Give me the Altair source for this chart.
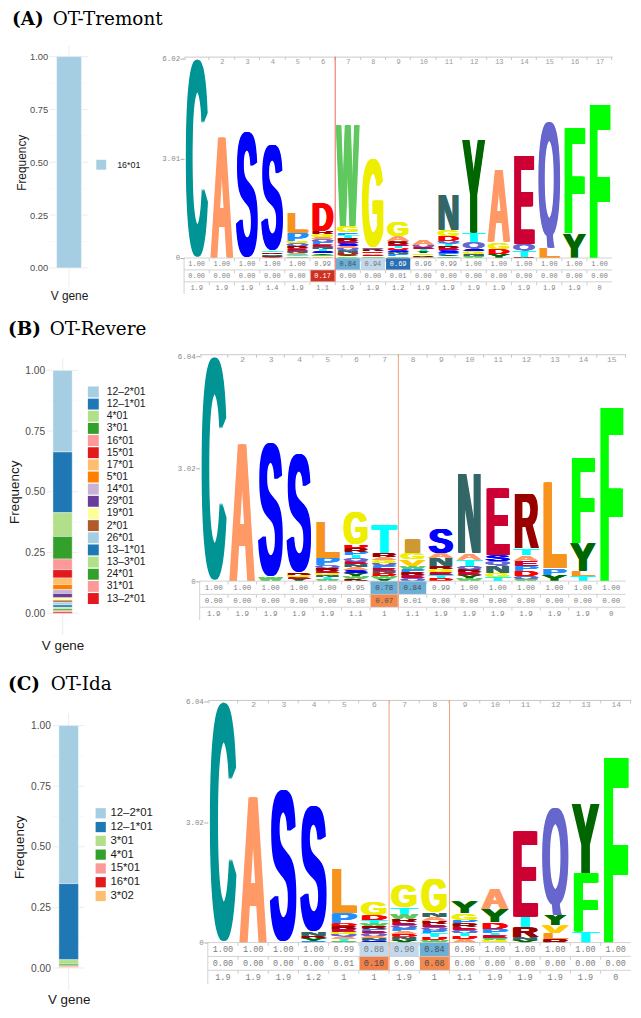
import urllib.parse
import altair as alt
import pandas as pd

# ---------------------------------------------------------------- data
TITLE_TAGS = ["(A)", "(B)", "(C)"]
TITLE_NAMES = ["OT-Tremont", "OT-Revere", "OT-Ida"]

GENES_A = ["16*01"]
FREQ_A = [1.0]
GENES_B = ["12–2*01", "12–1*01", "4*01", "3*01", "16*01", "15*01", "17*01", "5*01",
           "14*01", "29*01", "19*01", "2*01", "26*01", "13–1*01", "13–3*01", "24*01",
           "31*01", "13–2*01"]
FREQ_B = [0.336, 0.250, 0.098, 0.093, 0.044, 0.034, 0.027, 0.021, 0.016, 0.018,
          0.010, 0.008, 0.011, 0.010, 0.007, 0.007, 0.005, 0.005]
GENES_C = ["12–2*01", "12–1*01", "3*01", "4*01", "15*01", "16*01", "3*02"]
FREQ_C = [0.652, 0.314, 0.018, 0.007, 0.005, 0.002, 0.002]

# sequence logos: letters of each position from top to bottom, with heights (bits)
LOGO_A_LETTERS = ["C", "A", "S", "STRNEY", "LPGQRENATW", "DRGAQPENTSYWV",
                  "WGPTRESAQNDYF", "GQRDAEW", "GARETDSNPW", "AQETYGRW",
                  "NGDQTRESPYW", "YTQSGNW", "AGDY", "EQTR", "QL", "FY", "F"]
LOGO_A_HEIGHTS = [
    [6.02], [3.64], [3.84],
    [3.20, .05, .05, .05, .04, .03],
    [.63, .25, .08, .08, .07, .07, .06, .06, .05, .05],
    [.83, .10, .08, .08, .08, .07, .07, .07, .06, .06, .05, .05, .05],
    [3.04, .20, .09, .08, .08, .08, .07, .07, .07, .07, .06, .05, .05],
    [2.70, .06, .06, .05, .05, .05, .05],
    [.45, .15, .07, .07, .07, .06, .06, .06, .06, .05],
    [.14, .07, .07, .06, .06, .05, .05, .04],
    [1.05, .18, .15, .08, .07, .07, .07, .07, .06, .05, .05],
    [2.80, .30, .20, .07, .07, .07, .06],
    [2.20, .20, .15, .12],
    [2.65, .20, .20, .03],
    [3.78, .32],
    [3.18, .74],
    [4.64],
]
LOGO_B_LETTERS = ["C", "A", "SW", "SRGEY", "LPQREGNTW", "GDRPTQENASYWK",
                  "TRAGQPENDWY", "IGVWPREQ", "SANRGETD", "NATQREYW", "ESQNGT",
                  "RTAEPDQW", "LPY", "FYLT", "F"]
LOGO_B_HEIGHTS = [
    [6.04], [3.67], [3.61, .12],
    [3.21, .06, .06, .05, .05],
    [.98, .20, .07, .07, .06, .06, .06, .05, .05],
    [.89, .10, .09, .09, .09, .08, .08, .08, .08, .08, .07, .07, .07],
    [.75, .11, .08, .07, .07, .07, .07, .07, .07, .07, .07],
    [.36, .18, .18, .08, .08, .08, .08, .08],
    [.67, .13, .22, .08, .08, .08, .08, .08],
    [2.13, .18, .18, .08, .08, .08, .08, .08],
    [1.80, .16, .12, .20, .10, .11],
    [1.47, .18, .15, .15, .12, .14, .08, .06],
    [2.31, .18, .17],
    [2.31, .74, .15, .13],
    [4.66],
]
LOGO_C_LETTERS = ["C", "A", "S", "SNRYP", "LPDREGQATW", "GDTWRPEQANS",
                  "GTWREQPADNY", "GNAREQPTDW", "YGPREQTDA", "AYDPTEWG", "ETRNY",
                  "QYVLR", "YFT", "F"]
LOGO_C_HEIGHTS = [
    [6.04], [3.65], [3.84],
    [3.18, .10, .06, .06, .05],
    [1.12, .25, .07, .07, .07, .06, .06, .05, .05, .05],
    [.33, .12, .07, .07, .07, .06, .06, .06, .06, .06, .05],
    [.58, .17, .12, .08, .08, .08, .07, .07, .07, .08, .07],
    [.85, .12, .08, .08, .08, .08, .08, .08, .08, .07],
    [.29, .18, .08, .08, .08, .08, .08, .08, .08],
    [.50, .33, .17, .10, .06, .06, .06, .06],
    [2.14, .27, .25, .07, .06],
    [2.69, .27, .20, .15, .08],
    [1.74, 1.47, .27],
    [4.63],
]

# tables under the logos (three rows each)
TABLE_A_R1 = [1.00, 1.00, 1.00, 1.00, 1.00, 0.99, 0.84, 0.94, 0.69, 0.96, 0.99, 1.00, 1.00, 1.00, 1.00, 1.00, 1.00]
TABLE_A_R2 = [0.00, 0.00, 0.00, 0.00, 0.00, 0.17, 0.00, 0.00, 0.01, 0.00, 0.00, 0.00, 0.00, 0.00, 0.00, 0.00, 0.00]
TABLE_A_R3 = [1.9, 1.9, 1.9, 1.4, 1.9, 1.1, 1.9, 1.9, 1.2, 1.9, 1.9, 1.9, 1.9, 1.9, 1.9, 1.9, 0]
TABLE_B_R1 = [1.00, 1.00, 1.00, 1.00, 1.00, 0.95, 0.78, 0.84, 0.99, 1.00, 1.00, 1.00, 1.00, 1.00, 1.00]
TABLE_B_R2 = [0.00, 0.00, 0.00, 0.00, 0.00, 0.00, 0.07, 0.01, 0.00, 0.00, 0.00, 0.00, 0.00, 0.00, 0.00]
TABLE_B_R3 = [1.9, 1.9, 1.9, 1.9, 1.9, 1.1, 1, 1.1, 1.9, 1.9, 1.9, 1.9, 1.9, 1.9, 0]
TABLE_C_R1 = [1.00, 1.00, 1.00, 1.00, 0.99, 0.88, 0.90, 0.84, 0.96, 1.00, 1.00, 1.00, 1.00, 1.00]
TABLE_C_R2 = [0.00, 0.00, 0.00, 0.00, 0.01, 0.10, 0.00, 0.08, 0.00, 0.00, 0.00, 0.00, 0.00, 0.00]
TABLE_C_R3 = [1.9, 1.9, 1.9, 1.2, 1, 1, 1.9, 1, 1.1, 1.9, 1.9, 1.9, 1.9, 0]

# positions in front of which a separator line is drawn
SEPS_A = [7]
SEPS_B = [8]
SEPS_C = [7, 9]

# ---------------------------------------------------------------- styles / layout
PAIRED = ["#A6CEE3", "#1F78B4", "#B2DF8A", "#33A02C", "#FB9A99", "#E31A1C",
          "#FDBF6F", "#FF7F00", "#CAB2D6", "#6A3D9A", "#FFFF99", "#B15928"]

LETTER_COLORS = {
    "C": "#009494", "A": "#FF9966", "S": "#0000FF", "L": "#F7941E", "D": "#FF0000",
    "W": "#5FC85F", "G": "#EEEE00", "N": "#336666", "Y": "#006600", "E": "#CC0033",
    "Q": "#6666CC", "F": "#00FF00", "T": "#00FFFF", "R": "#990000", "P": "#1E90FF",
    "V": "#FFCC00", "K": "#7A0000", "I": "#CC9933", "M": "#9933CC", "H": "#6666FF",
}
CAP_HEIGHT = 0.688          # Liberation Sans Bold, em units
OVERSHOOT = {"C": 0.015, "G": 0.015, "O": 0.015, "Q": 0.015, "S": 0.015, "U": 0.015}
DESCENT = {"Q": 0.075}
SMEAR = [0.0, 2.5, 5.0, 7.5, 10.0]   # horizontal copies that thicken the glyph strokes

W_VIEW, H_VIEW, MARGIN = 630, 1002, 8


def vx(p):
    return p - MARGIN


def vy(p):
    return p - MARGIN


BAR_L = {
    "A": dict(bx0=57.0, bx1=82.0, y1=53.0, y0=266.0, axis_x=48.0, panel=(50.0, 89.0),
              tick_font=9.4, title_font=12.0, freq_pad=1.5, vgene_pad=23.0,
              leg_x=97.0, leg_c=162.0, sym=10.0, leg_off=11.0, leg_font=9.0, leg_step=12.0),
    "B": dict(bx0=53.3, bx1=72.7, y1=369.3, y0=614.0, axis_x=45.0, panel=(47.0, 79.0),
              tick_font=10.3, title_font=13.5, freq_pad=3.0, vgene_pad=26.0,
              leg_x=88.5, leg_c=391.0, sym=11.0, leg_off=8.0, leg_font=10.5, leg_step=12.25),
    "C": dict(bx0=59.3, bx1=79.0, y1=727.3, y0=971.7, axis_x=50.7, panel=(53.0, 85.4),
              tick_font=10.3, title_font=13.5, freq_pad=3.7, vgene_pad=25.0,
              leg_x=95.7, leg_c=815.7, sym=10.3, leg_off=4.0, leg_font=11.5, leg_step=12.4),
}

LOGO_L = {
    "A": dict(x0=185.5, x1=617.0, y0=256.0, ytop=55.0, ymax=6.02, frame=53.0,
              rows=[256.0, 268.0, 280.0, 292.0], font=7.0, top_font=7.0, sep_color="#F0645A"),
    "B": dict(x0=201.2, x1=630.4, y0=581.7, ytop=355.0, ymax=6.04, frame=353.0,
              rows=[581.7, 595.0, 608.0, 621.0], font=7.6, top_font=8.0, sep_color="#F4A07A"),
    "C": dict(x0=209.4, x1=635.8, y0=946.0, ytop=703.3, ymax=6.04, frame=701.5,
              rows=[946.0, 960.0, 974.0, 988.0], font=8.6, top_font=8.0, sep_color="#F4A07A"),
}

TITLE_POS = [((12, 21), (53, 21)), ((8, 334), (50, 334)), ((8, 691), (51, 691))]
TITLE_FONT = 18.5


def letter_url(ch):
    over = OVERSHOOT.get(ch, 0.0)
    desc = max(DESCENT.get(ch, 0.0), over)
    fs = 100.0 / (CAP_HEIGHT + over + desc)
    base = 100.0 - desc * fs
    width = 100.0 - SMEAR[-1]
    parts = []
    for dx in SMEAR:
        parts.append(
            f'<text x="{dx:.2f}" y="{base:.2f}" textLength="{width:.2f}" '
            f'lengthAdjust="spacingAndGlyphs">{ch}</text>'
        )
    svg = (
        '<svg xmlns="http://www.w3.org/2000/svg" width="100" height="100" '
        'viewBox="0 0 100 100" preserveAspectRatio="none">'
        f'<g font-family="Liberation Sans, Arial, sans-serif" font-weight="bold" '
        f'font-size="{fs:.2f}" fill="{LETTER_COLORS[ch]}">' + "".join(parts) + "</g></svg>"
    )
    return "data:image/svg+xml;charset=utf-8," + urllib.parse.quote(svg)


def cell_style(row, v):
    if row == "r1":
        if v < 0.75:
            return "#2A6EB4", "#FFFFFF"
        if v < 0.87:
            return "#6BAED6", "#4D4D4D"
        if v < 0.95:
            return "#C2D9EC", "#777777"
    if row == "r2":
        if v >= 0.15:
            return "#D0301F", "#FFFFFF"
        if v >= 0.09:
            return "#F0804A", "#4D4D4D"
        if v >= 0.05:
            return "#F4894E", "#4D4D4D"
    return None, "#808080"


def bar_group(genes, freqs, L):
    df = pd.DataFrame({"gene": genes, "freq": freqs, "idx": list(range(len(genes)))})
    df["cat"] = "V gene"
    colors = [PAIRED[i % len(PAIRED)] for i in range(len(genes))]
    yscale = alt.Scale(domain=[0, 1], range=[vy(L["y0"]), vy(L["y1"])], nice=False, zero=False)
    xscale = alt.Scale(domain=["V gene"], range=[vx(L["bx0"]), vx(L["bx1"])],
                       paddingInner=0, paddingOuter=0)
    yaxis = alt.Axis(orient="left", offset=-vx(L["axis_x"]), values=[0, 0.25, 0.5, 0.75, 1],
                     format=".2f", grid=False, ticks=False, tickSize=0, domain=False,
                     labelPadding=0, labelFont="Liberation Sans", labelFontSize=L["tick_font"],
                     labelColor="#4D4D4D", title="Frequency", titleFont="Liberation Sans",
                     titleFontSize=L["title_font"], titleFontWeight="normal",
                     titleColor="#1A1A1A", titlePadding=L["freq_pad"])
    xaxis = alt.Axis(orient="bottom", offset=vy(L["y0"]) - H_VIEW, labels=False, ticks=False,
                     tickSize=0, domain=False, grid=False, title="V gene",
                     titleFont="Liberation Sans", titleFontSize=L["title_font"],
                     titleFontWeight="normal", titleColor="#1A1A1A",
                     titlePadding=L["vgene_pad"])
    span = L["y0"] - L["y1"]
    px0, px1 = L["panel"]
    gmaj = alt.Chart(pd.DataFrame({"v": [0, 0.25, 0.5, 0.75, 1.0]})).mark_rule(
        color="#EBEBEB", strokeWidth=0.9).encode(
        x=alt.value(vx(px0)), x2=alt.value(vx(px1)),
        y=alt.Y("v:Q", scale=yscale, axis=yaxis))
    gmin = alt.Chart(pd.DataFrame({"v": [0.125, 0.375, 0.625, 0.875]})).mark_rule(
        color="#F2F2F2", strokeWidth=0.5).encode(
        x=alt.value(vx(px0)), x2=alt.value(vx(px1)),
        y=alt.Y("v:Q", scale=yscale, axis=yaxis))
    gvert = alt.Chart(pd.DataFrame({"cat": ["V gene"]})).mark_rule(
        color="#EBEBEB", strokeWidth=0.9).encode(
        x=alt.X("cat:N", scale=xscale, axis=xaxis),
        y=alt.value(vy(L["y1"] - 0.05 * span)), y2=alt.value(vy(L["y0"] + 0.09 * span)))
    eh = max(L["sym"], L["leg_font"])
    legend = alt.Legend(orient="none", legendX=vx(L["leg_x"]), legendY=vy(L["leg_c"] - eh / 2),
                        direction="vertical", title=None, symbolType="square",
                        symbolSize=L["sym"] ** 2, symbolStrokeWidth=0,
                        labelFont="Liberation Sans", labelFontSize=L["leg_font"],
                        labelColor="#1A1A1A", labelOffset=L["leg_off"],
                        rowPadding=L["leg_step"] - eh, padding=0, labelLimit=200)
    bars = alt.Chart(df).mark_bar(stroke="white", strokeWidth=0.4).encode(
        x=alt.X("cat:N", scale=xscale, axis=xaxis),
        y=alt.Y("freq:Q", stack="zero", scale=yscale, axis=yaxis),
        color=alt.Color("gene:N", scale=alt.Scale(domain=genes, range=colors), legend=legend),
        order=alt.Order("idx:Q", sort="descending"),
    )
    return alt.layer(gmin, gmaj, gvert, bars)


def table_group(r1, r2, r3, L):
    n = len(r1)
    recs = []
    for i in range(n):
        for row, v, txt in (("r1", r1[i], f"{r1[i]:.2f}"),
                            ("r2", r2[i], f"{r2[i]:.2f}"),
                            ("r3", r3[i], f"{r3[i]:g}")):
            fill, tc = cell_style(row, v) if row != "r3" else (None, "#808080")
            recs.append({"pos": i + 1, "row": row, "txt": txt, "fill": fill, "tc": tc})
    df = pd.DataFrame(recs)
    hi = df[df["fill"].notna()]
    xscale = alt.Scale(domain=list(range(1, n + 1)), range=[vx(L["x0"]), vx(L["x1"])],
                       paddingInner=0.04, paddingOuter=0.02)
    yscale = alt.Scale(domain=["r1", "r2", "r3"], range=[vy(L["rows"][0]), vy(L["rows"][3])],
                       paddingInner=0, paddingOuter=0)
    top_axis = alt.Axis(orient="bottom", offset=vy(L["frame"]) - H_VIEW, tickBand="extent",
                        tickSize=3, tickColor="#BBBBBB", tickWidth=0.8, domainColor="#BBBBBB",
                        domainWidth=0.8, labelFont="Liberation Mono",
                        labelFontSize=L["top_font"], labelColor="#999999", labelPadding=-2,
                        labelAngle=0, title=None, grid=False, zindex=0)
    rects = alt.Chart(hi).mark_rect().encode(
        x=alt.X("pos:O", scale=xscale, axis=top_axis),
        y=alt.Y("row:O", scale=yscale, axis=None),
        color=alt.Color("fill:N", scale=None))
    texts = alt.Chart(df).mark_text(font="Liberation Mono", fontSize=L["font"],
                                    baseline="middle").encode(
        x=alt.X("pos:O", scale=xscale, axis=top_axis),
        y=alt.Y("row:O", scale=yscale, axis=None),
        text="txt:N",
        color=alt.Color("tc:N", scale=None))
    return alt.layer(rects, texts)


def logo_group(letters, heights, seps, L):
    n = len(letters)
    recs = []
    for i, (s, hs) in enumerate(zip(letters, heights), start=1):
        assert len(s) == len(hs), (i, s, hs)
        base = 0.0
        for ch, h in reversed(list(zip(s, hs))):
            recs.append({"xl": i - 0.48, "xr": i + 0.48, "y0": base, "y1": base + h,
                         "url": letter_url(ch)})
            base += h
    df = pd.DataFrame(recs)
    ymax = L["ymax"]
    xscale = alt.Scale(domain=[0.5, n + 0.5], range=[vx(L["x0"]), vx(L["x1"])],
                       nice=False, zero=False)
    yscale = alt.Scale(domain=[0, ymax], range=[vy(L["y0"]), vy(L["ytop"])],
                       nice=False, zero=False)
    yaxis = alt.Axis(orient="left", offset=-vx(L["x0"]),
                     values=[0, round(ymax / 2, 2), ymax], format=".3~g", grid=False,
                     domain=False, tickSize=4, tickColor="#999999", tickWidth=0.8,
                     labelPadding=0.5, labelFont="Liberation Mono", labelFontSize=7.5,
                     labelColor="#888888", title=None, zindex=0)
    layers = [alt.Chart(df).mark_image(aspect=False).encode(
        x=alt.X("xl:Q", scale=xscale, axis=None), x2="xr:Q",
        y=alt.Y("y1:Q", scale=yscale, axis=yaxis), y2="y0:Q",
        url="url:N")]
    rows = L["rows"]
    dummy = pd.DataFrame({"k": [0]})
    bdf = pd.DataFrame({"b": [k + 0.5 for k in range(1, n)]})
    for r in rows[:3]:
        layers.append(alt.Chart(dummy).mark_rule(color="#C8C8C8", strokeWidth=0.8).encode(
            x=alt.value(vx(L["x0"])), x2=alt.value(vx(L["x1"])), y=alt.value(vy(r))))
        layers.append(alt.Chart(bdf).mark_rule(color="#C0C0C0", strokeWidth=0.8).encode(
            x=alt.X("b:Q", scale=xscale, axis=None),
            y=alt.value(vy(r) + 0.4), y2=alt.value(vy(r) + 3.4)))
    layers.append(alt.Chart(dummy).mark_rule(color="#C8C8C8", strokeWidth=0.8).encode(
        x=alt.value(vx(L["x0"])), y=alt.value(vy(rows[0])), y2=alt.value(vy(rows[3]))))
    sdf = pd.DataFrame({"b": [s - 0.5 for s in seps]})
    layers.append(alt.Chart(sdf).mark_rule(color=L["sep_color"], strokeWidth=1.0).encode(
        x=alt.X("b:Q", scale=xscale, axis=None),
        y=alt.value(vy(L["frame"])), y2=alt.value(vy(rows[2]))))
    return alt.layer(*layers)


def title_marks(i):
    (tx, ty), (nx, ny) = TITLE_POS[i]
    tag = alt.Chart(pd.DataFrame({"t": [TITLE_TAGS[i]]})).mark_text(
        font="DejaVu Serif", fontSize=TITLE_FONT, fontWeight="bold", align="left",
        baseline="alphabetic", color="#000000").encode(
        x=alt.value(vx(tx)), y=alt.value(vy(ty)), text="t:N")
    name = alt.Chart(pd.DataFrame({"t": [TITLE_NAMES[i]]})).mark_text(
        font="DejaVu Serif", fontSize=TITLE_FONT, fontWeight="normal", align="left",
        baseline="alphabetic", color="#000000").encode(
        x=alt.value(vx(nx)), y=alt.value(vy(ny)), text="t:N")
    return [tag, name]


panels = [
    ("A", GENES_A, FREQ_A, LOGO_A_LETTERS, LOGO_A_HEIGHTS, TABLE_A_R1, TABLE_A_R2, TABLE_A_R3, SEPS_A),
    ("B", GENES_B, FREQ_B, LOGO_B_LETTERS, LOGO_B_HEIGHTS, TABLE_B_R1, TABLE_B_R2, TABLE_B_R3, SEPS_B),
    ("C", GENES_C, FREQ_C, LOGO_C_LETTERS, LOGO_C_HEIGHTS, TABLE_C_R1, TABLE_C_R2, TABLE_C_R3, SEPS_C),
]

groups = []
for key, genes, freqs, lets, hts, r1, r2, r3, seps in panels:
    groups.append(table_group(r1, r2, r3, LOGO_L[key]))
for key, genes, freqs, lets, hts, r1, r2, r3, seps in panels:
    groups.append(bar_group(genes, freqs, BAR_L[key]))
    groups.append(logo_group(lets, hts, seps, LOGO_L[key]))
for i in range(3):
    groups.extend(title_marks(i))

chart = alt.layer(*groups).resolve_scale(
    x="independent", y="independent", color="independent"
).properties(
    width=W_VIEW, height=H_VIEW, padding=0,
    autosize=alt.AutoSizeParams(type="none"),
).configure_view(strokeWidth=0)

chart.save("out.html", embed_options={"renderer": "svg", "actions": False})
